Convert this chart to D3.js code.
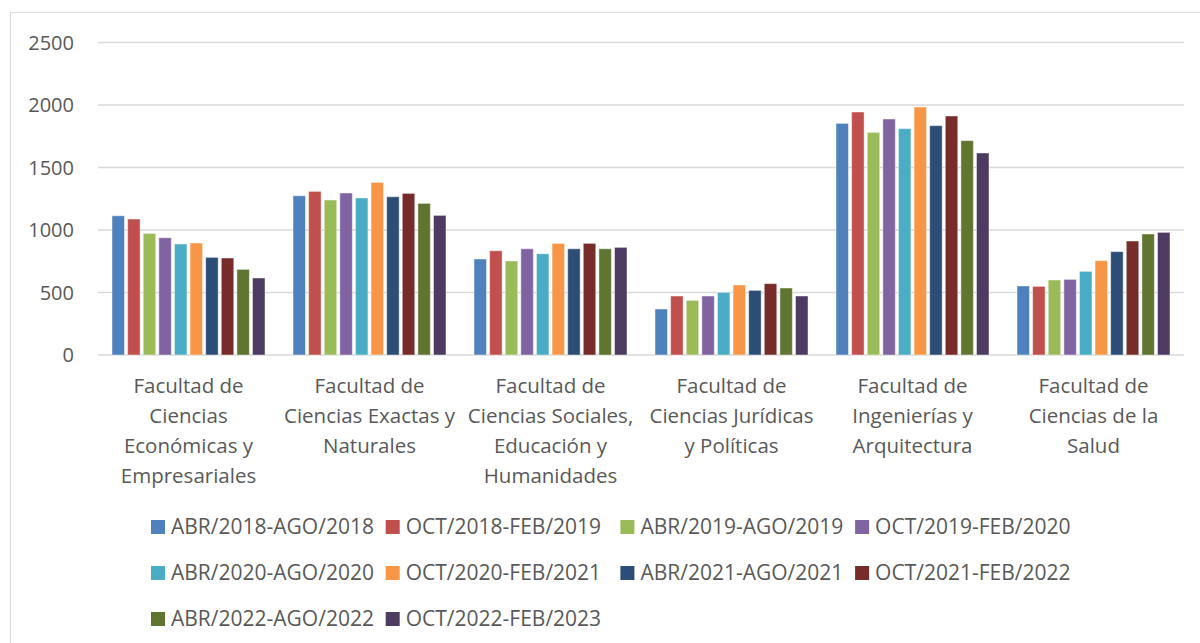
<!DOCTYPE html>
<html>
<head>
<meta charset="utf-8">
<script src="https://cdn.jsdelivr.net/npm/d3@7"></script>
<style>
  body { margin: 0; background: #fff; }
  svg text { font-family: "Open Sans", Calibri, Lato, sans-serif; fill: #595959; }
</style>
</head>
<body>
<div id="chart"></div>
<script>
var width = 1200;
var height = 643;

// categories (x axis), one label line per entry
var categories = [
  "Facultad de Ciencias Económicas y Empresariales",
  "Facultad de Ciencias Exactas y Naturales",
  "Facultad de Ciencias Sociales, Educación y Humanidades",
  "Facultad de Ciencias Jurídicas y Políticas",
  "Facultad de Ingenierías y Arquitectura",
  "Facultad de Ciencias de la Salud"
];
var categoryLines = [
  ["Facultad de", "Ciencias", "Económicas y", "Empresariales"],
  ["Facultad de", "Ciencias Exactas y", "Naturales"],
  ["Facultad de", "Ciencias Sociales,", "Educación y", "Humanidades"],
  ["Facultad de", "Ciencias Jurídicas", "y Políticas"],
  ["Facultad de", "Ingenierías y", "Arquitectura"],
  ["Facultad de", "Ciencias de la", "Salud"]
];

var periods = [
  "ABR/2018-AGO/2018", "OCT/2018-FEB/2019", "ABR/2019-AGO/2019", "OCT/2019-FEB/2020",
  "ABR/2020-AGO/2020", "OCT/2020-FEB/2021", "ABR/2021-AGO/2021", "OCT/2021-FEB/2022",
  "ABR/2022-AGO/2022", "OCT/2022-FEB/2023"
];

var colors = ["#4F81BD", "#C0504D", "#9BBB59", "#8064A2", "#4BACC6",
              "#F79646", "#2C4D75", "#772C2A", "#5F7530", "#4D3B62"];

// values per faculty, one per period (same order as periods)
var economicas = [1114, 1088, 973, 938, 888, 896, 781, 776, 685, 616];
var exactas    = [1274, 1309, 1240, 1296, 1256, 1381, 1266, 1293, 1213, 1117];
var sociales   = [768, 834, 752, 850, 810, 893, 850, 893, 850, 861];
var juridicas  = [368, 472, 437, 472, 501, 560, 517, 571, 536, 472];
var ingenieria = [1853, 1944, 1781, 1888, 1811, 1984, 1835, 1912, 1715, 1616];
var salud      = [552, 549, 600, 605, 669, 755, 827, 912, 968, 981];

var yTicks = [0, 500, 1000, 1500, 2000, 2500];

var seriesByCategory = [economicas, exactas, sociales, juridicas, ingenieria, salud];

var svg = d3.select("#chart")
  .append("svg")
  .attr("width", width)
  .attr("height", height);

svg.append("rect")
  .attr("width", width)
  .attr("height", height)
  .attr("fill", "white");

// chart frame
svg.append("rect")
  .attr("x", 10.5)
  .attr("y", 12.5)
  .attr("width", 1250)
  .attr("height", 700)
  .attr("fill", "none")
  .attr("stroke", "#d9d9d9")
  .attr("stroke-width", 1);

var plotLeft = 98, plotRight = 1184, plotTop = 42.5, plotBottom = 355;

var y = d3.scaleLinear()
  .domain([0, 2500])
  .range([plotBottom, plotTop]);

var x0 = d3.scaleBand()
  .domain(categories)
  .range([plotLeft, plotRight]);

var x1 = d3.scaleBand()
  .domain(periods)
  .range([14, x0.bandwidth() - 14])
  .paddingInner(0.2);

// gridlines
svg.append("g")
  .selectAll("line")
  .data(yTicks)
  .enter()
  .append("line")
  .attr("x1", plotLeft)
  .attr("x2", plotRight)
  .attr("y1", function(d) { return y(d); })
  .attr("y2", function(d) { return y(d); })
  .attr("stroke", "#d9d9d9")
  .attr("stroke-width", 1.5);

// y axis labels
svg.append("g")
  .selectAll("text")
  .data(yTicks)
  .enter()
  .append("text")
  .attr("x", 74)
  .attr("y", function(d) { return y(d); })
  .attr("dy", "0.35em")
  .attr("text-anchor", "end")
  .style("font-size", "20px")
  .text(function(d) { return d; });

// bars
var groups = svg.append("g")
  .selectAll("g")
  .data(categories)
  .enter()
  .append("g")
  .attr("transform", function(d) { return "translate(" + x0(d) + ",0)"; });

groups.selectAll("rect")
  .data(function(d, i) {
    return periods.map(function(p, j) { return { period: p, value: seriesByCategory[i][j], color: colors[j] }; });
  })
  .enter()
  .append("rect")
  .attr("x", function(d) { return x1(d.period); })
  .attr("y", function(d) { return y(d.value); })
  .attr("width", x1.bandwidth())
  .attr("height", function(d) { return y(0) - y(d.value); })
  .attr("fill", function(d) { return d.color; })
  .attr("stroke", "rgba(255,255,255,0.45)")
  .attr("stroke-width", 1);

// category labels
var labels = svg.append("g")
  .selectAll("text")
  .data(categories)
  .enter()
  .append("text")
  .attr("text-anchor", "middle")
  .style("font-size", "20.5px")
  .attr("transform", function(d) { return "translate(" + (x0(d) + x0.bandwidth() / 2) + ",393)"; });

labels.selectAll("tspan")
  .data(function(d, i) { return categoryLines[i]; })
  .enter()
  .append("tspan")
  .attr("x", 0)
  .attr("y", function(d, i) { return i * 30; })
  .text(function(d) { return d; });

// legend
var legendCols = 4;
var legend = svg.append("g")
  .selectAll("g")
  .data(periods)
  .enter()
  .append("g")
  .attr("transform", function(d, i) {
    return "translate(" + (151 + (i % legendCols) * 234.7) + "," + (527 + Math.floor(i / legendCols) * 46) + ")";
  });

legend.append("rect")
  .attr("x", 0)
  .attr("y", -7)
  .attr("width", 14)
  .attr("height", 14)
  .attr("fill", function(d, i) { return colors[i]; });

legend.append("text")
  .attr("x", 20)
  .attr("y", 0)
  .attr("dy", "0.35em")
  .style("font-size", "21px")
  .text(function(d) { return d; });
</script>
</body>
</html>
